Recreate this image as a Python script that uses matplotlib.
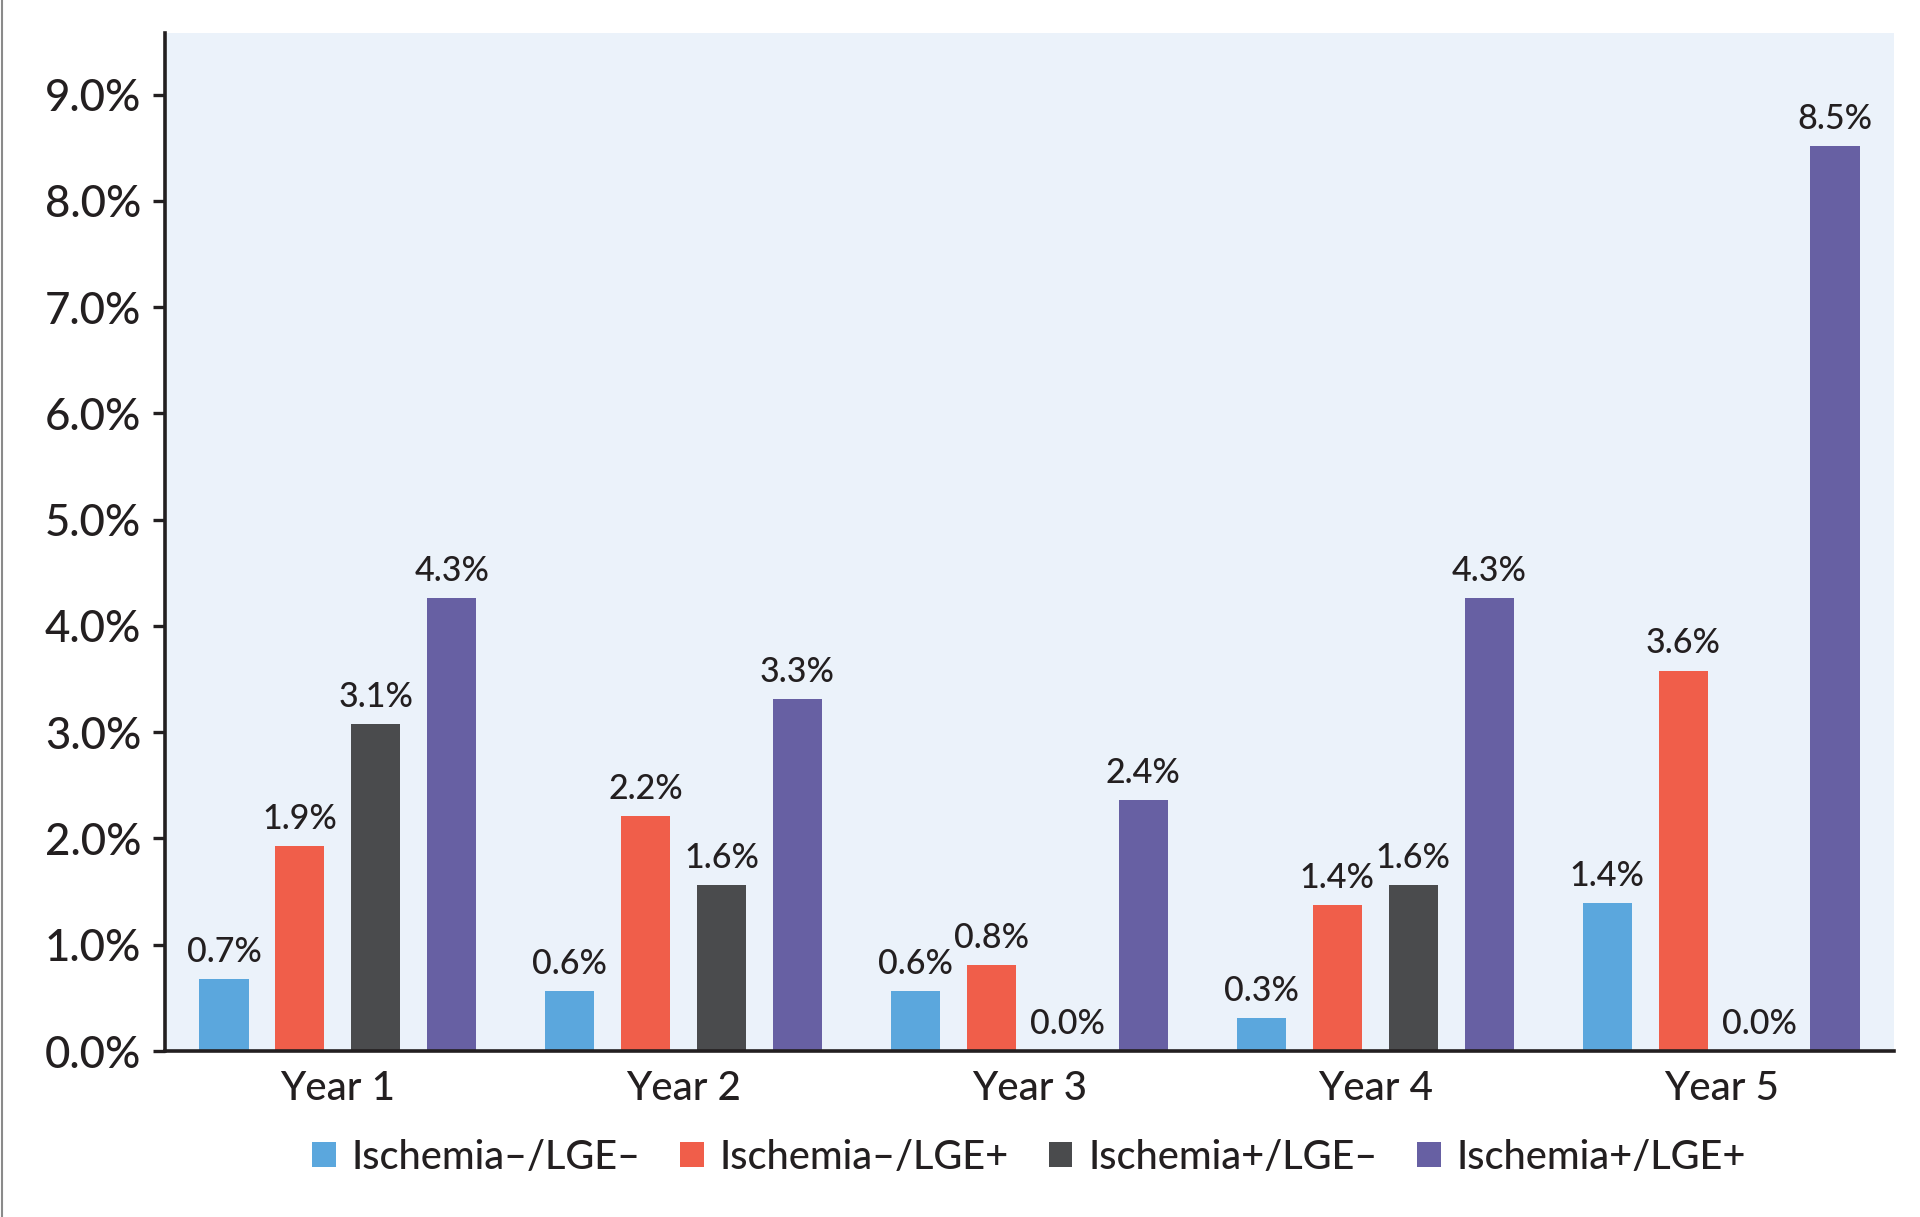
import matplotlib
matplotlib.use("Agg")
import matplotlib.pyplot as plt
from matplotlib.lines import Line2D
from matplotlib.patches import Patch
import numpy as np

# event rates per year, per group (%)
years = ["Year 1", "Year 2", "Year 3", "Year 4", "Year 5"]
groups = ["Ischemia\u2013/LGE\u2013", "Ischemia\u2013/LGE+", "Ischemia+/LGE\u2013", "Ischemia+/LGE+"]
isch_neg_lge_neg = [0.68, 0.56, 0.56, 0.31, 1.39]
isch_neg_lge_pos = [1.93, 2.21, 0.81, 1.37, 3.58]
isch_pos_lge_neg = [3.08, 1.56, 0.0, 1.56, 0.0]
isch_pos_lge_pos = [4.26, 3.31, 2.36, 4.26, 8.52]
yticks = [0, 1, 2, 3, 4, 5, 6, 7, 8, 9]

series = [isch_neg_lge_neg, isch_neg_lge_pos, isch_pos_lge_neg, isch_pos_lge_pos]
colors = ["#5BA7DD", "#F05E4A", "#4A4B4D", "#6760A3"]
ink = "#231F20"

plt.rcParams['font.family'] = ['Lato', 'DejaVu Sans']
plt.rcParams['font.weight'] = 'medium'

fig = plt.figure(figsize=(19.2, 12.17), dpi=100)
ax = fig.add_axes([0.0859, 0.1364, 0.9006, 0.8365])
ax.set_facecolor("#EBF2FA")

x = np.arange(len(years))
width = 0.142
step = 0.2195
for i, (vals, col) in enumerate(zip(series, colors)):
    pos = x + (i - 1.5) * step
    ax.bar(pos, vals, width=width, color=col, zorder=2)
    for px, v in zip(pos, vals):
        ax.annotate(f"{v:.1f}%", (px, v), xytext=(0, 8), textcoords="offset points",
                    ha="center", va="bottom", fontsize=24.5, color=ink)

ax.set_xlim(-0.5, 4.5)
ax.set_ylim(0, 9.58)
ax.set_yticks(yticks)
ax.set_yticklabels([f"{t:.1f}%" for t in yticks])
ax.set_xticks(x)
ax.set_xticklabels(years)

for s in ["top", "right"]:
    ax.spines[s].set_visible(False)
for s in ["left", "bottom"]:
    ax.spines[s].set_linewidth(2.6)
    ax.spines[s].set_color(ink)

ax.tick_params(axis="y", length=9, width=2.4, color=ink, labelsize=31.5, labelcolor=ink, pad=8)
ax.tick_params(axis="x", length=0, labelsize=29, labelcolor=ink, pad=14)

handles = [Patch(facecolor=c, label=g) for c, g in zip(colors, groups)]
fig.legend(handles=handles, loc="center", bbox_to_anchor=(0.536, 0.049), ncol=4,
           frameon=False, fontsize=28.5, handlelength=0.6, handleheight=0.6,
           handletextpad=0.4, columnspacing=1.0, labelcolor=ink)

# thin grey frame line on the left edge
fig.add_artist(Line2D([0.001, 0.001], [0, 1], transform=fig.transFigure, color="#8a8a8a", lw=1.5))

fig.savefig("out.png", dpi=100)
